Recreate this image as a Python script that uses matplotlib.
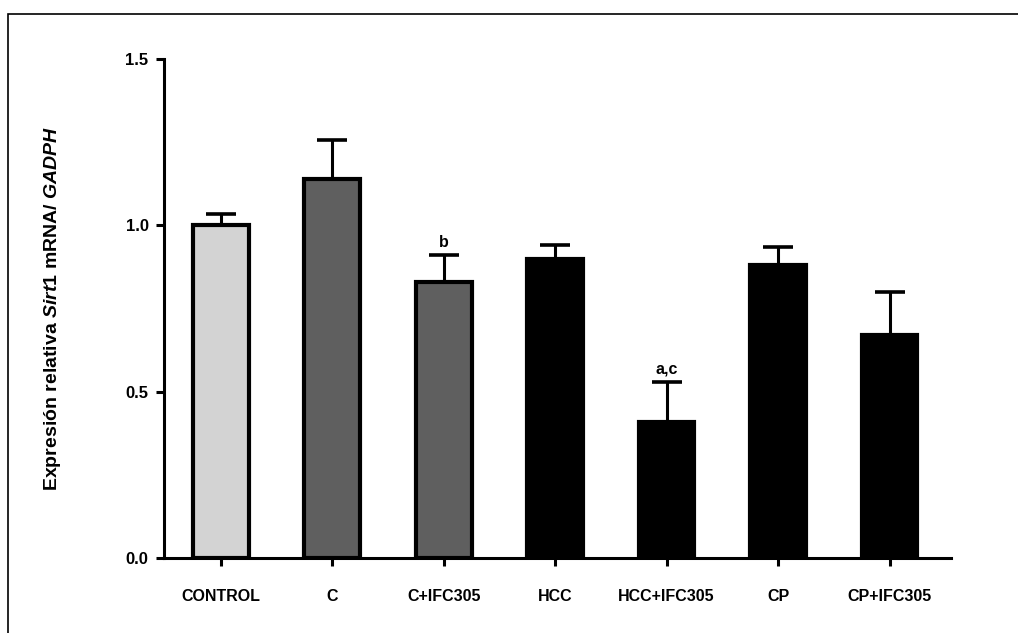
import numpy as np
import matplotlib
matplotlib.use("Agg")
import matplotlib.pyplot as plt
from matplotlib.patches import Rectangle

plt.rcParams['font.family'] = ['Liberation Sans', 'DejaVu Sans']
plt.rcParams['mathtext.fontset'] = 'custom'
plt.rcParams['mathtext.it'] = 'Liberation Sans:italic:bold'
plt.rcParams['mathtext.rm'] = 'Liberation Sans:bold'

# data
groups = ["CONTROL", "C", "C+IFC305", "HCC", "HCC+IFC305", "CP", "CP+IFC305"]
means = [1.00, 1.14, 0.83, 0.90, 0.41, 0.88, 0.67]
sem = [0.035, 0.115, 0.08, 0.04, 0.12, 0.055, 0.13]
bar_colors = ["#d3d3d3", "#5f5f5f", "#5f5f5f", "black", "black", "black", "black"]
signif = {"C+IFC305": "b", "HCC+IFC305": "a,c"}

fig = plt.figure(figsize=(10.18, 6.33), dpi=100)
ax = fig.add_axes([0.161, 0.1185, 0.773, 0.7883])

# outer frame (only top and left visible in the original)
fig.patches.append(Rectangle((8 / 1018, -0.05), 1.1, 1 - 14 / 633 + 0.05,
                             transform=fig.transFigure, fill=False,
                             edgecolor="black", linewidth=1.2))

x = np.arange(len(groups))
ax.errorbar(x, means, yerr=[np.zeros(len(sem)), sem], fmt='none',
            ecolor='black', elinewidth=2.2, capsize=10.5, capthick=2.6, zorder=1)
ax.bar(x, means, width=0.5, color=bar_colors, edgecolor='black',
       linewidth=3.0, zorder=2)

for g, lab in signif.items():
    i = groups.index(g)
    ax.text(i, means[i] + sem[i] + 0.015, lab, ha='center', va='bottom',
            fontsize=11.5, fontweight='bold')

ax.set_xlim(-0.51, 6.55)
ax.set_ylim(0, 1.5)
ax.set_yticks([0, 0.5, 1.0, 1.5])
ax.set_yticklabels(["0.0", "0.5", "1.0", "1.5"])
ax.set_xticks(x)
ax.set_xticklabels(groups)

for s in ['top', 'right']:
    ax.spines[s].set_visible(False)
for s in ['left', 'bottom']:
    ax.spines[s].set_linewidth(2.2)
    ax.spines[s].set_capstyle('projecting')

ax.tick_params(axis='y', direction='out', length=6, width=2.2, pad=5,
               labelsize=12)
ax.tick_params(axis='x', direction='out', length=6, width=2.2, pad=16,
               labelsize=11.5)
for t in ax.get_xticklabels() + ax.get_yticklabels():
    t.set_fontweight('bold')

ax.set_ylabel(r"Expresión relativa $\mathit{Sirt1}$ mRNA/ $\mathit{GADPH}$",
              fontsize=14, fontweight='bold')
ax.yaxis.set_label_coords(-0.128, 0.5)

fig.savefig("out.png", dpi=100)
